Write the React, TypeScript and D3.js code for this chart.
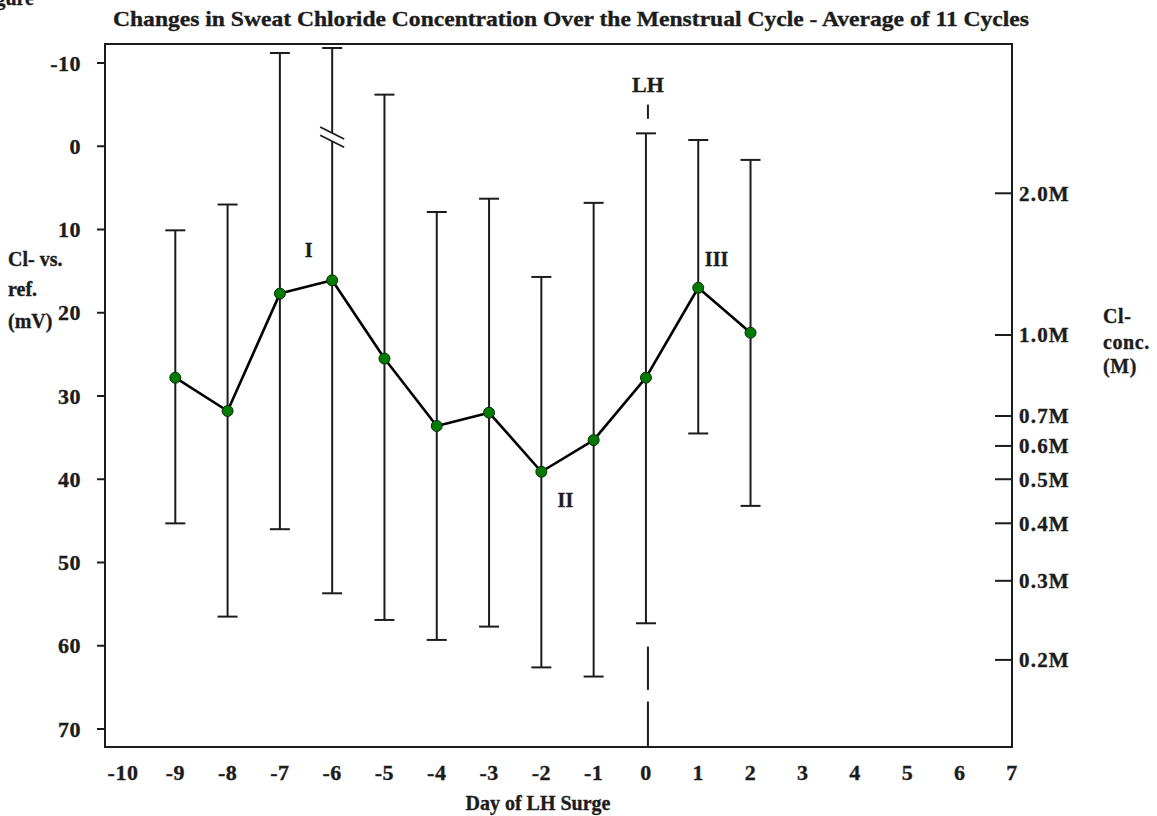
import React from "react";
import * as d3 from "d3";

// Day relative to the LH surge
const days = [-9, -8, -7, -6, -5, -4, -3, -2, -1, 0, 1, 2];
// Mean Cl- electrode potential vs. reference (mV)
const meanMv = [27.8, 31.8, 17.7, 16.1, 25.5, 33.6, 32.0, 39.1, 35.3, 27.8, 17.0, 22.4];
// Error bar ends (mV)
const upperMv = [10.1, 7.0, -11.2, -11.8, -6.2, 7.9, 6.3, 15.7, 6.8, -1.55, -0.75, 1.64];
const lowerMv = [45.3, 56.5, 46.0, 53.7, 56.9, 59.3, 57.7, 62.6, 63.7, 57.3, 34.5, 43.2];

// Axis ticks
const xTicks = d3.range(-10, 8);
const yTicks = [-10, 0, 10, 20, 30, 40, 50, 60, 70];
// Concentration calibration for the right axis (label, equivalent mV)
const concLabels = ["2.0M", "1.0M", "0.7M", "0.6M", "0.5M", "0.4M", "0.3M", "0.2M"];
const concMv = [5.65, 22.67, 32.4, 36.0, 40.0, 45.29, 52.2, 61.7];

// Phase annotations (day, mV baseline)
const phaseLabels = ["I", "II", "III"];
const phaseDays = [-6.45, -1.54, 1.35];
const phaseMv = [13.3, 43.3, 14.35];

// Day whose error bar carries a scale break, and the break span (mV)
const breakDay = -6;
const breakMv = [-1.6, -0.6];

// LH surge marker (day 0) dashes in mV
const lhDay = 0;
const lhDashes: [number, number][] = [[-5.0, -3.3], [60.1, 65.3], [66.7, 72.1]];

const W = 1157;
const H = 816;
const frame = { left: 105, right: 1012, top: 44, bottom: 747 };
const FONT = "'Liberation Serif', 'Times New Roman', serif";
const INK = "#1c1c1c";

// heavy bitmap-like lettering
const textStyle = { stroke: INK, strokeWidth: 0.35, paintOrder: "stroke" as const };

export default function App() {
  const x = d3.scaleLinear().domain([-10, 7]).range([123, 1012]);
  const y = d3.scaleLinear().domain([-10, 70]).range([63, 729]);

  const pts = days.map((d, i) => ({ d, v: meanMv[i], hi: upperMv[i], lo: lowerMv[i] }));
  const line = d3
    .line<{ d: number; v: number }>()
    .x((p) => x(p.d))
    .y((p) => y(p.v));

  const capHalf = 10;

  return (
    <svg
      width={W}
      height={H}
      style={{ position: "absolute", left: 0, top: 0, display: "block", background: "#fff" }}
      fontFamily={FONT}
      fontWeight="bold"
    >
      <rect x={0} y={0} width={W} height={H} fill="#fff" />

      <g style={textStyle}>
        {/* caption fragment at the top-left corner */}
        <text x={34} y={5} fontSize={20} textAnchor="end" fill={INK}>
          Figure
        </text>

        {/* title */}
        <text x={113} y={26} fontSize={21} textLength={916} lengthAdjust="spacingAndGlyphs" fill={INK}>
          Changes in Sweat Chloride Concentration Over the Menstrual Cycle - Average of 11 Cycles
        </text>
      </g>

      {/* plot frame */}
      <rect
        x={frame.left}
        y={frame.top}
        width={frame.right - frame.left}
        height={frame.bottom - frame.top}
        fill="none"
        stroke={INK}
        strokeWidth={2}
      />

      {/* left axis */}
      {yTicks.map((t) => (
        <g key={"yt" + t}>
          <line x1={97} x2={frame.left} y1={y(t)} y2={y(t)} stroke={INK} strokeWidth={2} />
          <text x={81} y={y(t) + 7.5} fontSize={22} textAnchor="end" fill={INK} style={textStyle} letterSpacing={0.5}>
            {t}
          </text>
        </g>
      ))}
      <text fontSize={20} fill={INK} style={textStyle}>
        <tspan x={8} y={266}>Cl- vs.</tspan>
        <tspan x={8} y={296}>ref.</tspan>
        <tspan x={8} y={328}>(mV)</tspan>
      </text>

      {/* right axis: Cl- concentration */}
      {concLabels.map((lab, i) => (
        <g key={"ct" + lab}>
          <line x1={995} x2={frame.right} y1={y(concMv[i])} y2={y(concMv[i])} stroke={INK} strokeWidth={2} />
          <text x={1019} y={y(concMv[i]) + 7.5} fontSize={21} fill={INK} style={textStyle} letterSpacing={1.2}>
            {lab}
          </text>
        </g>
      ))}
      <text fontSize={20} fill={INK} style={textStyle} letterSpacing={0.6}>
        <tspan x={1103} y={323}>Cl-</tspan>
        <tspan x={1103} y={349}>conc.</tspan>
        <tspan x={1103} y={373}>(M)</tspan>
      </text>

      {/* bottom axis labels */}
      {xTicks.map((t) => (
        <text key={"xt" + t} x={x(t)} y={780} fontSize={22} textAnchor="middle" fill={INK} style={textStyle} letterSpacing={0.5}>
          {t}
        </text>
      ))}
      <text x={538} y={810} fontSize={20} textAnchor="middle" fill={INK} style={textStyle}>
        Day of LH Surge
      </text>

      {/* LH surge marker */}
      <text x={x(lhDay) + 2} y={y(-6.55)} fontSize={22} textAnchor="middle" fill={INK} style={textStyle}>
        LH
      </text>
      {lhDashes.map(([a, b], i) => (
        <line
          key={"lh" + i}
          x1={x(lhDay) + 2}
          x2={x(lhDay) + 2}
          y1={y(a)}
          y2={Math.min(y(b), frame.bottom)}
          stroke={INK}
          strokeWidth={2}
        />
      ))}

      {/* error bars */}
      {pts.map((p) => {
        const cx = x(p.d);
        const isBreak = p.d === breakDay;
        return (
          <g key={"eb" + p.d} stroke={INK} strokeWidth={2}>
            {isBreak ? (
              <>
                <line x1={cx} x2={cx} y1={y(p.hi)} y2={y(breakMv[0])} />
                <line x1={cx} x2={cx} y1={y(breakMv[1])} y2={y(p.lo)} />
                {breakMv.map((m, k) => (
                  <line
                    key={"br" + k}
                    x1={cx - 12}
                    x2={cx + 12}
                    y1={y(m) - 6}
                    y2={y(m) + 6}
                    strokeWidth={1.8}
                  />
                ))}
              </>
            ) : (
              <line x1={cx} x2={cx} y1={y(p.hi)} y2={y(p.lo)} />
            )}
            <line x1={cx - capHalf} x2={cx + capHalf} y1={y(p.hi)} y2={y(p.hi)} />
            <line x1={cx - capHalf} x2={cx + capHalf} y1={y(p.lo)} y2={y(p.lo)} />
          </g>
        );
      })}

      {/* mean line */}
      <path d={line(pts) || ""} fill="none" stroke="#000" strokeWidth={2.6} strokeLinejoin="round" />
      {pts.map((p) => (
        <circle key={"pt" + p.d} cx={x(p.d)} cy={y(p.v)} r={5.5} fill="#007a00" stroke="#0b2a0b" strokeWidth={1} />
      ))}

      {/* phase labels */}
      {phaseLabels.map((lab, i) => (
        <text
          key={"ph" + lab}
          x={x(phaseDays[i])}
          y={y(phaseMv[i])}
          fontSize={20}
          textAnchor="middle"
          fill={INK}
          style={textStyle}
        >
          {lab}
        </text>
      ))}
    </svg>
  );
}
